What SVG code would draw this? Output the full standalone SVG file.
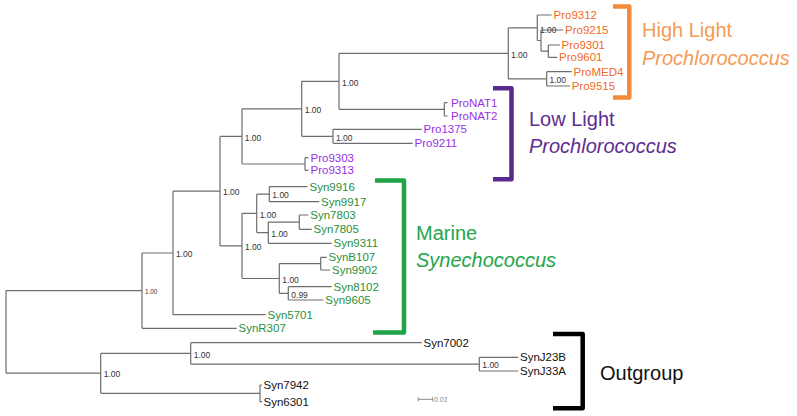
<svg xmlns="http://www.w3.org/2000/svg" width="797" height="416" viewBox="0 0 797 416">
<style>
.br{fill:none;stroke:#6e6e6e;stroke-width:1.2}
.tip{font-family:"Liberation Sans",Arial,sans-serif;font-size:11.5px}
.hl{fill:#f06a24}
.ll{fill:#9a30e6}
.sy{fill:#2b8f3b}
.og{fill:#111}
.bs{font-family:"Liberation Sans",Arial,sans-serif;font-size:8.5px;fill:#333}
.bs.small{font-size:6.3px}
.head{font-family:"Liberation Sans",Arial,sans-serif;font-size:20px}
.bk{fill:none;stroke-width:4.5;stroke-linejoin:round}
</style>
<rect width="797" height="416" fill="#fff"/>
<g id="connectors" class="br">
<path d="M6,290.6V373.2M6,290.6H142M6,373.2H100.7"/>
<path d="M142,253V328.3M142,253H173M142,328.3H236.7"/>
<path d="M173,191.2V314.7M173,191.2H220M173,314.7H265.7"/>
<path d="M220,136.4V245.9M220,136.4H242M220,245.9H242"/>
<path d="M242,108.8V164M242,108.8H301.7M242,164H305"/>
<path d="M305,157.7V170.3M305,157.7H308.5M305,170.3H308.5"/>
<path d="M301.7,81.3V136.3M301.7,81.3H339M301.7,136.3H333"/>
<path d="M339,53.3V109.3M339,53.3H508.3M339,109.3H444.3"/>
<path d="M444.3,102.7V116M444.3,102.7H447.5M444.3,116H447.5"/>
<path d="M333,129.3V143.3M333,129.3H421.7M333,143.3H412.7"/>
<path d="M508.3,27.8V78.9M508.3,27.8H537.3M508.3,78.9H546.7"/>
<path d="M537.3,15V40.5M537.3,15H551.7M537.3,40.5H541"/>
<path d="M541,30V51.2M541,30H563.3M541,51.2H548.3"/>
<path d="M548.3,45V57.3M548.3,45H560M548.3,57.3H557.3"/>
<path d="M546.7,71.7V86M546.7,71.7H571.7M546.7,86H570"/>
<path d="M242,213.3V278.5M242,213.3H256.7M242,278.5H279.3"/>
<path d="M256.7,194.2V232.6M256.7,194.2H269.3M256.7,232.6H268.3"/>
<path d="M269.3,186.7V201.7M269.3,186.7H307.3M269.3,201.7H319.3"/>
<path d="M268.3,222.1V243.3M268.3,222.1H299.3M268.3,243.3H331.7"/>
<path d="M299.3,215V229.3M299.3,215H308.3M299.3,229.3H311.7"/>
<path d="M279.3,263.6V293.3M279.3,263.6H320.7M279.3,293.3H288.3"/>
<path d="M320.7,257.3V270M320.7,257.3H326.7M320.7,270H330"/>
<path d="M288.3,286.7V300M288.3,286.7H331.7M288.3,300H323.3"/>
<path d="M100.7,353.4V393.3M100.7,353.4H190.7M100.7,393.3H260"/>
<path d="M190.7,342.7V364.2M190.7,342.7H421.7M190.7,364.2H479.3"/>
<path d="M479.3,357.3V371M479.3,357.3H518.3M479.3,371H518.3"/>
<path d="M260,385V401.7M260,385H262M260,401.7H262"/>
<path d="M418.3,399.3H432.7M418.3,397.3V401.3M432.7,397.3V401.3" stroke="#888" stroke-width="1"/>
</g>
<g id="support-values">
<text class="bs small" x="145" y="293.8">1.00</text>
<text class="bs" x="176" y="257.2">1.00</text>
<text class="bs" x="223" y="195.4">1.00</text>
<text class="bs" x="244.7" y="140.6">1.00</text>
<text class="bs" x="304.7" y="113">1.00</text>
<text class="bs" x="342" y="85.5">1.00</text>
<text class="bs" x="336" y="140.6">1.00</text>
<text class="bs" x="511" y="57.8">1.00</text>
<text class="bs" x="540" y="33">1.00</text>
<text class="bs" x="549.5" y="83.2">1.00</text>
<text class="bs" x="245" y="250.2">1.00</text>
<text class="bs" x="259.7" y="217.5">1.00</text>
<text class="bs" x="272.3" y="198.4">1.00</text>
<text class="bs" x="271.3" y="236.8">1.00</text>
<text class="bs" x="282.3" y="282.8">1.00</text>
<text class="bs" x="291.3" y="297.6">0.99</text>
<text class="bs" x="103.7" y="377.4">1.00</text>
<text class="bs" x="193.7" y="357.6">1.00</text>
<text class="bs" x="482.3" y="368.3">1.00</text>
<text x="434" y="402" font-family="Liberation Sans,Arial,sans-serif" font-size="7px" font-style="italic" fill="#888">0.01</text>
</g>
<g id="high-light-tips" class="tip hl">
<text x="553.5" y="19">Pro9312</text>
<text x="565" y="34">Pro9215</text>
<text x="561.5" y="49">Pro9301</text>
<text x="559" y="61.3">Pro9601</text>
<text x="573.5" y="75.7">ProMED4</text>
<text x="571.7" y="90">Pro9515</text>
</g>
<g id="low-light-tips" class="tip ll">
<text x="451" y="106.7">ProNAT1</text>
<text x="451" y="120">ProNAT2</text>
<text x="423.5" y="133.3">Pro1375</text>
<text x="414.5" y="147.3">Pro9211</text>
<text x="310.5" y="161.7">Pro9303</text>
<text x="310.5" y="174.3">Pro9313</text>
</g>
<g id="synechococcus-tips" class="tip sy">
<text x="309.5" y="190.7">Syn9916</text>
<text x="321" y="205.7">Syn9917</text>
<text x="310.3" y="219">Syn7803</text>
<text x="313.5" y="233.3">Syn7805</text>
<text x="333.5" y="247.3">Syn9311</text>
<text x="328.5" y="261.3">SynB107</text>
<text x="332" y="274">Syn9902</text>
<text x="333.5" y="290.7">Syn8102</text>
<text x="325.3" y="304">Syn9605</text>
<text x="267.5" y="318.7">Syn5701</text>
<text x="238.5" y="332.3">SynR307</text>
</g>
<g id="outgroup-tips" class="tip og">
<text x="423.5" y="346.7">Syn7002</text>
<text x="520" y="361.3">SynJ23B</text>
<text x="520" y="375">SynJ33A</text>
<text x="263.5" y="389">Syn7942</text>
<text x="263.5" y="405.7">Syn6301</text>
</g>
<g id="high-light-clade">
<path class="bk" d="M613,6.5H629.3V97.5H613" stroke="#f38a3a"/>
<text class="head" x="642" y="37" fill="#f39c56">High Light</text>
<text class="head" x="642" y="64.5" fill="#f39c56" font-style="italic">Prochlorococcus</text>
</g>
<g id="low-light-clade">
<path class="bk" d="M493,88.3H511.5V179.3H493" stroke="#5b2a8e"/>
<text class="head" x="529" y="126" fill="#5e2d91">Low Light</text>
<text class="head" x="529" y="153" fill="#5e2d91" font-style="italic">Prochlorococcus</text>
</g>
<g id="synechococcus-clade">
<path class="bk" d="M375,180.5H404V332.5H373" stroke="#1fa548"/>
<text class="head" x="416" y="240" fill="#25a54d">Marine</text>
<text class="head" x="416" y="267.3" fill="#25a54d" font-style="italic">Synechococcus</text>
</g>
<g id="outgroup-clade">
<path class="bk" d="M553,334H582.7V408.3H553" stroke="#000"/>
<text class="head" x="600" y="380" fill="#111">Outgroup</text>
</g>
</svg>
